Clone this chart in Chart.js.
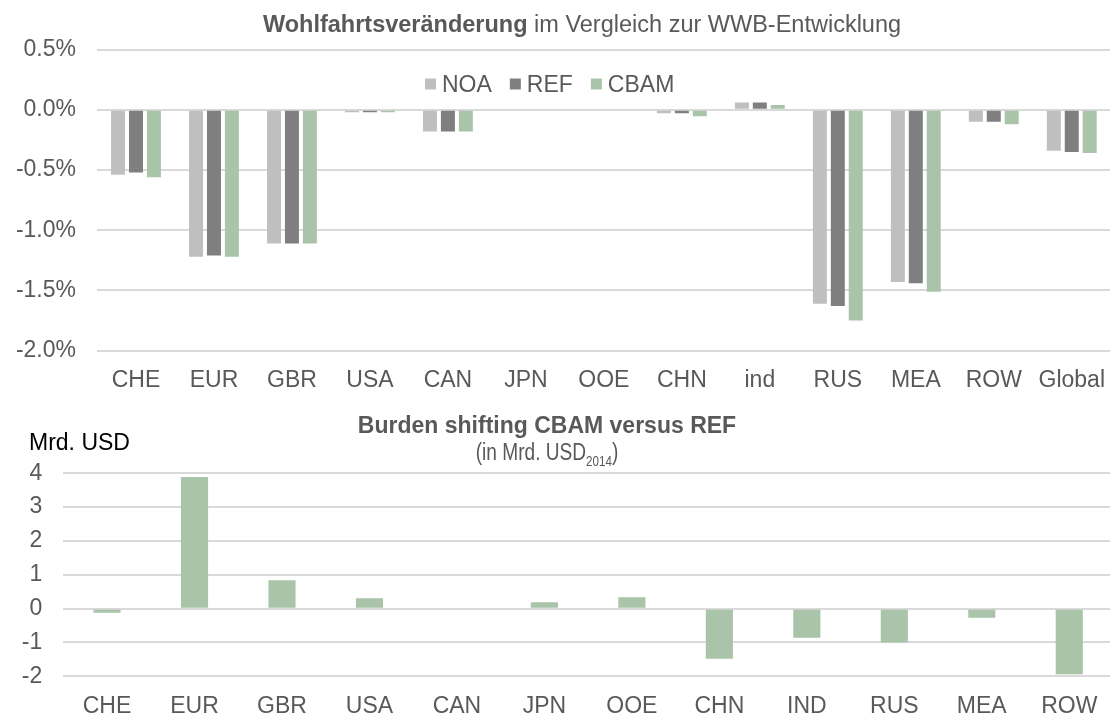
<!DOCTYPE html>
<html>
<head>
<meta charset="utf-8">
<script src="https://cdn.jsdelivr.net/npm/chart.js@4.4.1/dist/chart.umd.min.js"></script>
<style>
    html, body { margin: 0; padding: 0; background: #fff; overflow: hidden; width: 1110px; height: 715px; }
    .box { position: absolute; left: 0; }
</style>
</head>
<body>
<div class="box" style="top:0"><canvas id="welfareChart" width="1113" height="395"></canvas></div>
<div class="box" style="top:395px"><canvas id="shiftChart" width="1113" height="330"></canvas></div>
<script>
const regionsTop = ['CHE', 'EUR', 'GBR', 'USA', 'CAN', 'JPN', 'OOE', 'CHN', 'ind', 'RUS', 'MEA', 'ROW', 'Global'];
const noaValues = [-0.54, -1.22, -1.11, -0.02, -0.18, 0, 0, -0.03, 0.06, -1.61, -1.43, -0.10, -0.34];
const refValues = [-0.52, -1.21, -1.11, -0.02, -0.18, 0, 0, -0.03, 0.06, -1.63, -1.44, -0.10, -0.35];
const cbamValues = [-0.56, -1.22, -1.11, -0.02, -0.18, 0, 0, -0.055, 0.04, -1.75, -1.51, -0.12, -0.36];
const seriesNames = ['NOA', 'REF', 'CBAM'];

const regionsBottom = ['CHE', 'EUR', 'GBR', 'USA', 'CAN', 'JPN', 'OOE', 'CHN', 'IND', 'RUS', 'MEA', 'ROW'];
const shiftValues = [-0.12, 3.89, 0.84, 0.31, 0, 0.19, 0.34, -1.48, -0.86, -1.0, -0.27, -1.94];

const FONT = "'Liberation Sans', Arial, sans-serif";
const TEXT = '#595959';
const GRID = '#D9D9D9';
const colors = ['#BFBFBF', '#7F7F7F', '#A9C4A9'];

Chart.defaults.font.family = FONT;
Chart.defaults.color = TEXT;

// title with a bold first word and the legend sitting inside the plot
const welfareDecor = {
    id: 'welfareDecor',
    afterDraw(chart) {
        const ctx = chart.ctx;
        ctx.save();
        ctx.fillStyle = TEXT;
        ctx.textBaseline = 'alphabetic';
        const boldPart = 'Wohlfahrtsveränderung';
        const restPart = ' im Vergleich zur WWB-Entwicklung';
        ctx.font = 'bold 23.5px ' + FONT;
        const w1 = ctx.measureText(boldPart).width;
        ctx.font = '23.5px ' + FONT;
        const w2 = ctx.measureText(restPart).width;
        let x = 582 - (w1 + w2) / 2;
        ctx.font = 'bold 23.5px ' + FONT;
        ctx.fillText(boldPart, x, 32);
        ctx.font = '23.5px ' + FONT;
        ctx.fillText(restPart, x + w1, 32);

        // legend
        ctx.font = '23px ' + FONT;
        let lx = 425;
        chart.data.datasets.forEach((ds, i) => {
            ctx.fillStyle = ds.backgroundColor;
            ctx.fillRect(lx, 78.5, 11, 11);
            ctx.fillStyle = TEXT;
            ctx.fillText(ds.label, lx + 17, 92);
            lx += 17 + ctx.measureText(ds.label).width + 18;
        });
        ctx.restore();
    }
};

const shiftDecor = {
    id: 'shiftDecor',
    afterDraw(chart) {
        const ctx = chart.ctx;
        ctx.save();
        ctx.textBaseline = 'alphabetic';
        ctx.fillStyle = TEXT;
        ctx.font = 'bold 23px ' + FONT;
        ctx.textAlign = 'center';
        ctx.fillText('Burden shifting CBAM versus REF', 547, 38);

        // subtitle in a narrow face, with subscript year
        const sx = 0.83;
        ctx.textAlign = 'left';
        ctx.font = '23px ' + FONT;
        const a = '(in Mrd. USD';
        const c = ')';
        const wa = ctx.measureText(a).width * sx;
        const wc = ctx.measureText(c).width * sx;
        ctx.font = '14px ' + FONT;
        const b = '2014';
        const wb = ctx.measureText(b).width * sx;
        let x = 547 - (wa + wb + wc) / 2;
        ctx.save();
        ctx.translate(x, 65);
        ctx.scale(sx, 1);
        ctx.font = '23px ' + FONT;
        ctx.fillText(a, 0, 0);
        ctx.font = '14px ' + FONT;
        ctx.fillText(b, wa / sx, 6);
        ctx.font = '23px ' + FONT;
        ctx.fillText(c, (wa + wb) / sx, 0);
        ctx.restore();

        ctx.fillStyle = '#000';
        ctx.font = '23px ' + FONT;
        ctx.fillText('Mrd. USD', 29, 55);
        ctx.restore();
    }
};

new Chart(document.getElementById('welfareChart'), {
    type: 'bar',
    data: {
        labels: regionsTop,
        datasets: [noaValues, refValues, cbamValues].map((vals, i) => ({
            label: seriesNames[i],
            data: vals,
            backgroundColor: colors[i],
            borderWidth: 0,
            categoryPercentage: 0.69,
            barPercentage: 0.78
        }))
    },
    options: {
        responsive: false,
        animation: false,
        devicePixelRatio: 1,
        layout: { padding: { top: 49.5, left: 0, right: 0, bottom: 0 } },
        plugins: { legend: { display: false }, tooltip: { enabled: false } },
        scales: {
            x: {
                grid: { display: false },
                border: { display: false },
                ticks: { font: { size: 23 }, color: TEXT, padding: 8, maxRotation: 0, autoSkip: false },
                afterFit(scale) { scale.height = 44.3; }
            },
            y: {
                min: -2,
                max: 0.5,
                grid: { color: GRID, lineWidth: 2, drawTicks: false },
                border: { display: false },
                ticks: {
                    stepSize: 0.5,
                    font: { size: 23 },
                    color: TEXT,
                    padding: 21,
                    callback: (v) => v.toFixed(1) + '%'
                },
                afterFit(scale) { scale.width = 97; }
            }
        }
    },
    plugins: [welfareDecor]
});

new Chart(document.getElementById('shiftChart'), {
    type: 'bar',
    data: {
        labels: regionsBottom,
        datasets: [{
            label: 'CBAM',
            data: shiftValues,
            backgroundColor: colors[2],
            borderWidth: 0,
            categoryPercentage: 1,
            barPercentage: 0.31
        }]
    },
    options: {
        responsive: false,
        animation: false,
        devicePixelRatio: 1,
        layout: { padding: { top: 78.3, left: 0, right: 0, bottom: 0 } },
        plugins: { legend: { display: false }, tooltip: { enabled: false } },
        scales: {
            x: {
                grid: { display: false },
                border: { display: false },
                ticks: { font: { size: 23 }, color: TEXT, padding: 8.5, maxRotation: 0, autoSkip: false },
                afterFit(scale) { scale.height = 48.7; }
            },
            y: {
                min: -2,
                max: 4,
                grid: { color: GRID, lineWidth: 2, drawTicks: false },
                border: { display: false },
                ticks: { stepSize: 1, font: { size: 23 }, color: TEXT, padding: 21 },
                afterFit(scale) { scale.width = 63.3; }
            }
        }
    },
    plugins: [shiftDecor]
});
</script>
</body>
</html>
